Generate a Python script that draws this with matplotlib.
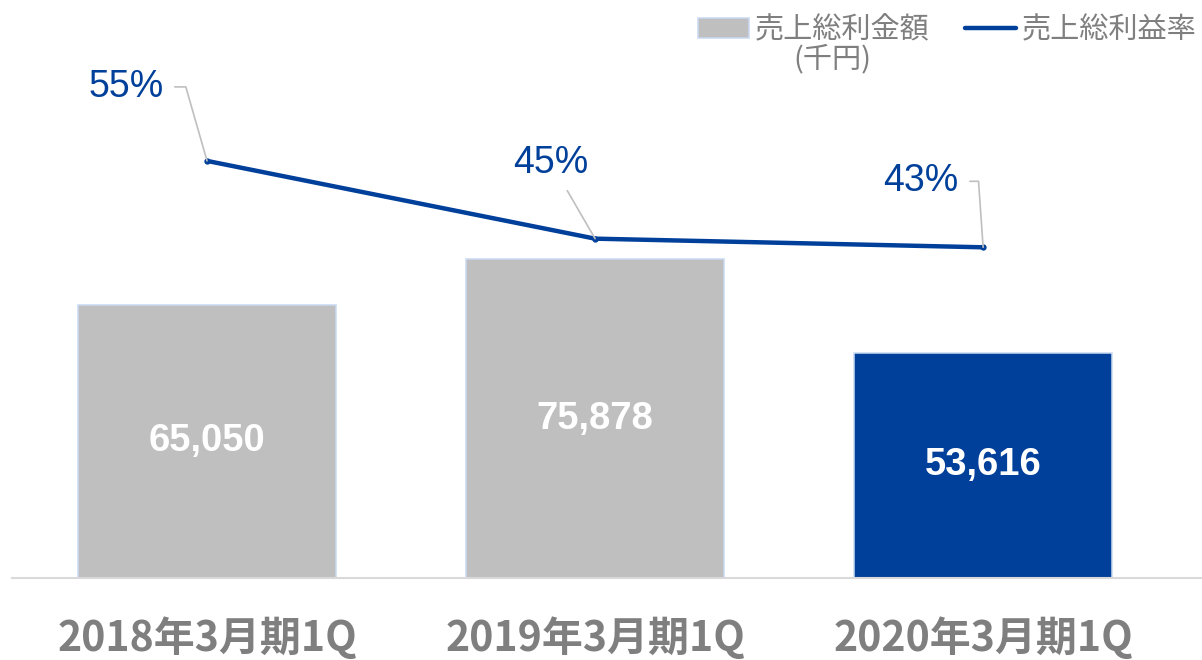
import matplotlib
matplotlib.use("Agg")
from matplotlib import pyplot as plt
from matplotlib.patches import Patch
from matplotlib.lines import Line2D

plt.rcParams['font.family'] = ['Liberation Sans', 'Noto Sans CJK JP', 'DejaVu Sans']

periods = ['2018年3月期1Q', '2019年3月期1Q', '2020年3月期1Q']
gross_profit = [65050, 75878, 53616]          # 千円
gross_margin = [55.4, 44.6, 43.4]             # %
profit_labels = ['65,050', '75,878', '53,616']
margin_labels = ['55%', '45%', '43%']

GRAY = '#BFBFBF'
BLUE = '#00409A'
EDGE = '#C9DAF2'
TEXT_GRAY = '#7F7F7F'

fig = plt.figure(figsize=(12.02, 6.6), dpi=100)
ax = fig.add_axes([12 / 1202, 82 / 660, 1190 / 1202, 558 / 660])

x = list(range(len(periods)))
bar_colors = [GRAY, GRAY, BLUE]
bars = ax.bar(x, gross_profit, width=0.665, color=bar_colors, edgecolor=EDGE, linewidth=1.1, zorder=2)
ax.bar_label(bars, labels=profit_labels, label_type='center', color='white',
             fontsize=27.5, fontweight='bold', family=['Liberation Sans'])

ax.set_xlim(-0.5026, 2.564)
ax.set_ylim(0, 132860)
ax.set_xticks(x)
ax.set_xticklabels(periods, fontsize=29.5, fontweight='bold', color=TEXT_GRAY,
                   family=['Noto Sans CJK JP'])
ax.tick_params(axis='x', length=0, pad=28)
for s in ['top', 'right', 'left']:
    ax.spines[s].set_visible(False)
ax.spines['bottom'].set_color('#D9D9D9')
ax.spines['bottom'].set_linewidth(1.5)

ax2 = ax.twinx()
ax.tick_params(axis='y', left=False, labelleft=False)
ax2.set_ylim(-2.53, 74.97)
ax2.plot(x, gross_margin, color=BLUE, linewidth=3.2, solid_capstyle='round',
         marker='o', markersize=3.5, zorder=3)
ax2.set_yticks([])
for s in ['top', 'right', 'left', 'bottom']:
    ax2.spines[s].set_visible(False)

# label offsets (pixels) and leader styles
offsets = [(-81, 74), (-44, 76), (-62, 66)]
conns = ['angle,angleA=0,angleB=106', 'arc3', 'angle,angleA=0,angleB=94']
relpos = [(1.0, 0.5), (0.5, 0.5), (1.0, 0.5)]
for i in range(len(x)):
    ax2.annotate(margin_labels[i], xy=(x[i], gross_margin[i]), xytext=offsets[i],
                 textcoords='offset pixels', ha='center', va='center',
                 fontsize=27, color=BLUE,
                 arrowprops=dict(arrowstyle='-', color='#BFBFBF', lw=1.2,
                                 connectionstyle=conns[i], relpos=relpos[i],
                                 shrinkA=6, shrinkB=0))

handles = [Patch(facecolor=GRAY, edgecolor=EDGE, linewidth=1.1),
           Line2D([0], [0], color=BLUE, linewidth=3.2, solid_capstyle='round')]
leg = fig.legend(handles, ['売上総利金額', '売上総利益率'], ncol=2,
                 loc='upper right', bbox_to_anchor=(1.0, 0.986), frameon=False,
                 prop={'family': ['Noto Sans CJK JP'], 'size': 21},
                 handlelength=1.75, handleheight=0.7, handletextpad=0.2,
                 columnspacing=1.2, borderaxespad=0.0, borderpad=0.2)
for t in leg.get_texts():
    t.set_color(TEXT_GRAY)
fig.text(832 / 1202, 1 - 59 / 660, '(千円)', ha='center', va='center',
         fontsize=21, color=TEXT_GRAY, family=['Noto Sans CJK JP'])

fig.savefig('out.png', dpi=100)
